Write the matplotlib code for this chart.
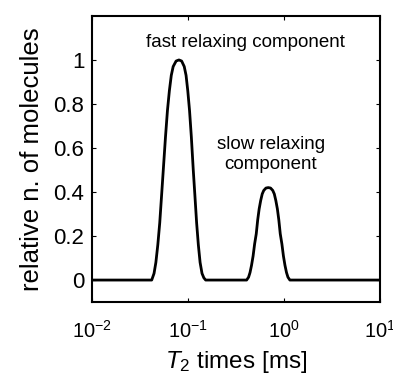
import numpy as np
import matplotlib
matplotlib.use("Agg")
import matplotlib.pyplot as plt

# T2 distribution (T2 in ms, relative number of molecules)
t2_ms = [0.01, 0.0419, 0.0443, 0.0463, 0.0485, 0.0508, 0.0532, 0.0553, 0.0583,
         0.0611, 0.0640, 0.0670, 0.0701, 0.0752, 0.0805, 0.0859, 0.0914, 0.0955,
         0.0995, 0.1038, 0.1084, 0.1135, 0.1178, 0.1230, 0.1282, 0.1337, 0.1400,
         0.1463, 0.1528,
         0.408, 0.4276, 0.4426, 0.459, 0.4764, 0.4943, 0.514, 0.532, 0.551,
         0.5715, 0.593, 0.615, 0.6486, 0.6855, 0.7244, 0.7638, 0.7925, 0.8222,
         0.8531, 0.8831, 0.914, 0.9506, 0.9863, 1.0233, 1.0617, 1.099, 1.151, 10.0]
rel_n = [0.0, 0.0, 0.03, 0.08, 0.16, 0.26, 0.39, 0.50, 0.65,
         0.77, 0.86, 0.93, 0.97, 0.995, 1.0, 0.995, 0.97, 0.93,
         0.86, 0.77, 0.65, 0.50, 0.39, 0.26, 0.16, 0.08, 0.03,
         0.01, 0.0,
         0.0, 0.013, 0.034, 0.067, 0.109, 0.164, 0.21, 0.273, 0.323,
         0.361, 0.391, 0.407, 0.418, 0.42, 0.418, 0.407, 0.391, 0.361,
         0.323, 0.273, 0.21, 0.164, 0.109, 0.067, 0.034, 0.013, 0.0, 0.0]

x_ticks = [0.01, 0.1, 1, 10]
y_ticks = [0, 0.2, 0.4, 0.6, 0.8, 1]
y_ticklabels = ['0', '0.2', '0.4', '0.6', '0.8', '1']

plt.rcParams['font.family'] = ['Liberation Sans', 'DejaVu Sans']
plt.rcParams['mathtext.fontset'] = 'custom'
plt.rcParams['mathtext.rm'] = 'Liberation Sans'
plt.rcParams['mathtext.it'] = 'Liberation Sans:italic'

fig = plt.figure(figsize=(3.93, 3.79), dpi=100)
ax = fig.add_axes([0.234, 0.203, 0.733, 0.755])

ax.plot(t2_ms, rel_n, color='black', linewidth=2.0)

ax.set_xscale('log')
ax.set_xlim(0.01, 10)
ax.set_ylim(-0.1, 1.2)
ax.set_xticks(x_ticks)
ax.minorticks_off()
ax.set_yticks(y_ticks)
ax.set_yticklabels(y_ticklabels)
ax.tick_params(direction='in', top=True, right=True, length=3, width=0.8)
ax.tick_params(axis='y', labelsize=16, pad=5.5)
ax.tick_params(axis='x', labelsize=14.5, pad=13)
for s in ax.spines.values():
    s.set_linewidth(1.5)

ax.set_xlabel('$T_2$ times [ms]', fontsize=17.5, labelpad=5)
ax.set_ylabel('relative n. of molecules', fontsize=18.5, labelpad=7)

ax.text(0.392, 1.08, 'fast relaxing component', fontsize=13.5,
        ha='center', va='center')
ax.text(0.733, 0.57, 'slow relaxing\ncomponent', fontsize=13.5,
        ha='center', va='center', linespacing=1.25)

fig.savefig('out.png', dpi=100)
